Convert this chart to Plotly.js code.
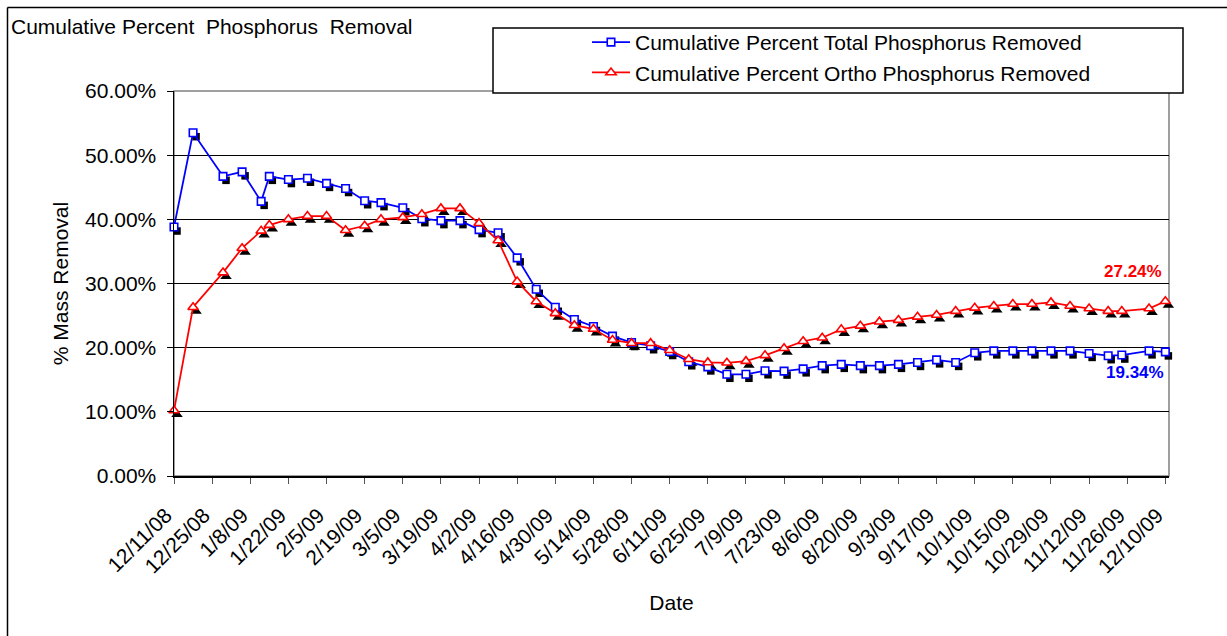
<!DOCTYPE html>
<html>
<head>
<meta charset="utf-8">
<script src="https://cdn.plot.ly/plotly-3.0.1.min.js"></script>
<style>html,body{margin:0;padding:0;background:#fff;}#chart{width:1227px;height:636px;}</style>
</head>
<body>
<div id="chart"></div>
<script>
const dates = ['2008-12-11','2008-12-18','2008-12-29','2009-01-05','2009-01-12','2009-01-15','2009-01-22','2009-01-29',
'2009-02-05','2009-02-12','2009-02-19','2009-02-25','2009-03-05','2009-03-12','2009-03-19','2009-03-26',
'2009-04-02','2009-04-09','2009-04-16','2009-04-23','2009-04-30','2009-05-07','2009-05-14','2009-05-21','2009-05-28',
'2009-06-04','2009-06-11','2009-06-18','2009-06-25','2009-07-02','2009-07-09','2009-07-16','2009-07-23','2009-07-30',
'2009-08-06','2009-08-13','2009-08-20','2009-08-27','2009-09-03','2009-09-10','2009-09-17','2009-09-24',
'2009-10-01','2009-10-08','2009-10-15','2009-10-22','2009-10-29','2009-11-05','2009-11-12','2009-11-19','2009-11-24',
'2009-12-04','2009-12-10'];

const totalP = [38.8,53.5,46.7,47.4,42.8,46.7,46.2,46.4,45.6,44.8,42.9,42.6,41.8,40.1,39.8,39.8,38.4,37.9,34.0,29.1,
26.3,24.4,23.3,21.8,20.8,20.3,19.4,17.8,17.0,15.85,15.85,16.4,16.35,16.7,17.2,17.4,17.2,17.2,17.4,17.7,18.1,17.7,
19.2,19.5,19.5,19.5,19.5,19.5,19.1,18.75,18.85,19.5,19.34];

const orthoP = [10.2,26.3,31.7,35.5,38.2,39.1,40.0,40.5,40.5,38.3,39.0,40.0,40.3,40.8,41.7,41.7,39.4,36.7,30.3,27.2,
25.35,23.5,22.9,21.2,20.7,20.7,19.6,18.2,17.7,17.65,17.9,18.8,19.9,21.0,21.55,22.85,23.4,24.05,24.3,24.8,
25.1,25.7,26.2,26.5,26.8,26.8,27.05,26.5,26.1,25.7,25.7,26.1,27.24];

const seriesNames = ['Cumulative Percent Total Phosphorus Removed','Cumulative Percent Ortho Phosphorus Removed'];
const chartTitle = 'Cumulative Percent\u00a0 Phosphorus\u00a0 Removal';
const xTitle = 'Date';
const yTitle = '% Mass Removal';

const W = 1227, H = 636;
const mL = 174, mR = 55, mT = 91, mB = 156;
const pw = W - mL - mR, ph = H - mT - mB;
const sdx = 3, sdy = 4;
const FONT = '"Liberation Sans", Arial, sans-serif';
const FS = 21;
const xRange = ['2008-12-11', '2009-12-11 08:00'];

function px2x(p){ return (p - mL) / pw; }
function py2y(p){ return (H - mB - p) / ph; }

const traces = [
  {x: dates, y: totalP, xaxis:'x', yaxis:'y', mode:'markers', showlegend:false, hoverinfo:'skip', cliponaxis:false,
   marker:{symbol:'square', size:7.5, color:'#000', line:{width:0}}},
  {x: dates, y: orthoP, xaxis:'x', yaxis:'y', mode:'markers', showlegend:false, hoverinfo:'skip', cliponaxis:false,
   marker:{symbol:'triangle-up', size:10, color:'#000', line:{width:0}}},
  {x: dates, y: totalP, xaxis:'x2', yaxis:'y2', mode:'lines+markers', name: seriesNames[0], cliponaxis:false,
   line:{color:'#0000FF', width:1.75},
   marker:{symbol:'square', size:7.5, color:'#FFFFFF', line:{color:'#0000FF', width:1.6}}},
  {x: dates, y: orthoP, xaxis:'x2', yaxis:'y2', mode:'lines+markers', name: seriesNames[1], cliponaxis:false,
   line:{color:'#FF0000', width:1.75},
   marker:{symbol:'triangle-up', size:9, color:'#FFFFFF', line:{color:'#FF0000', width:1.6}}}
];

const last = dates.length - 1;

const layout = {
  width: W, height: H,
  paper_bgcolor:'#FFFFFF', plot_bgcolor:'rgba(0,0,0,0)',
  margin:{l:mL, r:mR, t:mT, b:mB, pad:0},
  font:{family: FONT, size:FS, color:'#000'},
  title:{text: chartTitle, x: 11/W, xref:'container', xanchor:'left', y: 1 - 27/H, yref:'container', yanchor:'middle',
         font:{family: FONT, size:FS, color:'#000'}},
  showlegend:true,
  legend:{x: px2x(587), y: py2y(22), xanchor:'left', yanchor:'top', bgcolor:'rgba(0,0,0,0)', borderwidth:0,
          font:{family: FONT, size:FS, color:'#000'}, itemwidth:38, traceorder:'normal'},
  xaxis:{domain:[sdx/pw, 1], anchor:'y', type:'date', range: xRange, visible:false, fixedrange:true},
  yaxis:{domain:[0, 1 - sdy/ph], anchor:'x', range:[0,60], visible:false, fixedrange:true},
  xaxis2:{domain:[0, 1 - sdx/pw], anchor:'y2', type:'date', range: xRange,
          tick0:'2008-12-11', dtick: 14*86400000, tickformat:'%-m/%-d/%y', tickangle:-45, ticksuffix:'\u00a0\u00a0',
          ticks:'outside', ticklen:6, tickcolor:'#555', tickwidth:1,
          showline:true, linecolor:'#000', linewidth:1.5, showgrid:false, zeroline:false,
          tickfont:{family: FONT, size:FS, color:'#000'}, ticklabelstandoff:3,
          title:{text: xTitle, font:{family: FONT, size:FS, color:'#000'}, standoff:19}},
  yaxis2:{domain:[sdy/ph, 1], anchor:'x2', range:[0,60], dtick:10, tick0:0, tickformat:'.2f', ticksuffix:'%',
          ticks:'outside', ticklen:6, tickcolor:'#000', tickwidth:1,
          showline:true, linecolor:'#000', linewidth:1.5, showgrid:true, gridcolor:'#000', gridwidth:1, zeroline:false,
          tickfont:{family: FONT, size:FS, color:'#000'}, ticklabelstandoff:6,
          title:{text: yTitle, font:{family: FONT, size:FS, color:'#000'}, standoff:10}},
  shapes:[
    {type:'line', xref:'paper', yref:'paper', x0: px2x(7.5), x1: px2x(7.5), y0: py2y(640), y1: py2y(7.5),
     line:{color:'#000', width:1.5}, layer:'below'},
    {type:'line', xref:'paper', yref:'paper', x0: px2x(7.5), x1: px2x(1230), y0: py2y(7.5), y1: py2y(7.5),
     line:{color:'#000', width:1.5}, layer:'below'},
    {type:'rect', xref:'paper', yref:'paper', x0: 0, x1: 1 - sdx/pw, y0: sdy/ph, y1: 1,
     line:{color:'#808080', width:1.5}, fillcolor:'rgba(0,0,0,0)', layer:'below'},
    {type:'rect', xref:'paper', yref:'paper', x0: px2x(493), x1: px2x(1183), y0: py2y(93), y1: py2y(28),
     line:{color:'#000', width:1.5}, fillcolor:'#FFFFFF', layer:'above'}
  ],
  annotations:[
    {x: dates[last], y: orthoP[last], xref:'x2', yref:'y2', text:'<b>' + orthoP[last].toFixed(2) + '%</b>',
     showarrow:false, xanchor:'right', yanchor:'middle', xshift:-1, yshift:30,
     font:{family: FONT, size:17, color:'#FF0000'}},
    {x: dates[last], y: totalP[last], xref:'x2', yref:'y2', text:'<b>' + totalP[last].toFixed(2) + '%</b>',
     showarrow:false, xanchor:'right', yanchor:'middle', xshift:1, yshift:-21,
     font:{family: FONT, size:17, color:'#0000FF'}}
  ]
};

Plotly.newPlot('chart', traces, layout, {displayModeBar:false, staticPlot:true});
</script>
</body>
</html>
